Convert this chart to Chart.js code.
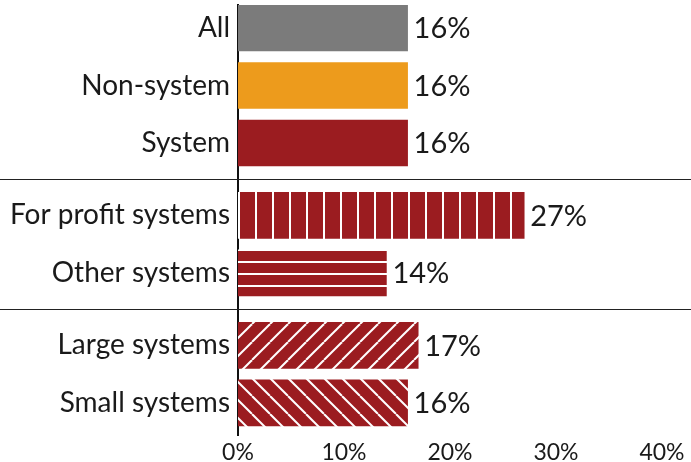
<!DOCTYPE html>
<html>
<head>
<meta charset="utf-8">
<script src="https://cdn.jsdelivr.net/npm/chart.js@4"></script>
<style>
    html, body { margin: 0; padding: 0; background: #fff; }
    #wrap { width: 691px; height: 462px; }
</style>
</head>
<body>
<div id="wrap"><canvas id="chart"></canvas></div>
<script>
// chart data
var categories = ["All", "Non-system", "System", "For profit systems", "Other systems", "Large systems", "Small systems"];
var values = [16, 16, 16, 27, 14, 17, 16];
var groups = [0, 0, 0, 1, 1, 2, 2];
var xTicks = [0, 10, 20, 30, 40];

var RED = "#9b1c20";
var GROUP_GAP = 0.26; // extra space between groups, in rows
var FONT = "Lato";

// row positions: one per category, groups pushed apart a bit
var rows = categories.map(function (c, i) {
    return i + groups[i] * GROUP_GAP;
});

function makePattern(kind) {
    var c = document.createElement("canvas");
    var g = c.getContext("2d");
    if (kind === "vertical") {
        c.width = 17; c.height = 4;
        g.fillStyle = RED; g.fillRect(0, 0, 17, 4);
        g.fillStyle = "#fff"; g.fillRect(0, 0, 2, 4);
    } else if (kind === "horizontal") {
        c.width = 4; c.height = 12;
        g.fillStyle = RED; g.fillRect(0, 0, 4, 12);
        g.fillStyle = "#fff"; g.fillRect(0, 9, 4, 2);
    } else {
        var s = 18;
        c.width = s; c.height = s;
        g.fillStyle = RED; g.fillRect(0, 0, s, s);
        g.strokeStyle = "#fff"; g.lineWidth = 2;
        [-s, 0, s].forEach(function (o) {
            g.beginPath();
            if (kind === "up") {
                g.moveTo(o, s); g.lineTo(o + s, 0);
            } else {
                g.moveTo(o, 0); g.lineTo(o + s, s);
            }
            g.stroke();
        });
    }
    return g.createPattern(c, "repeat");
}

var fills = [
    "#7b7b7b",
    "#ed9b1c",
    RED,
    makePattern("vertical"),
    makePattern("horizontal"),
    makePattern("up"),
    makePattern("down"),
];

// value labels at the end of each bar
var valueLabels = {
    id: "valueLabels",
    afterDatasetsDraw: function (chart) {
        var ctx = chart.ctx;
        var meta = chart.getDatasetMeta(0);
        ctx.save();
        ctx.font = "29px " + FONT;
        ctx.fillStyle = "#1a1a1a";
        ctx.textAlign = "left";
        ctx.textBaseline = "middle";
        meta.data.forEach(function (bar, i) {
            ctx.fillText(values[i] + "%", bar.x + 6, bar.y + 1);
        });
        ctx.restore();
    },
};

// thin lines between the groups
var groupLines = {
    id: "groupLines",
    afterDraw: function (chart) {
        var ctx = chart.ctx;
        var y = chart.scales.y;
        ctx.save();
        ctx.strokeStyle = "#222";
        ctx.lineWidth = 1.2;
        for (var i = 0; i < rows.length - 1; i++) {
            if (groups[i] === groups[i + 1]) continue;
            var py = Math.round((y.getPixelForValue(rows[i]) + y.getPixelForValue(rows[i + 1])) / 2) + 0.5;
            ctx.beginPath();
            ctx.moveTo(0, py);
            ctx.lineTo(chart.width, py);
            ctx.stroke();
        }
        ctx.restore();
    },
};

var ctx = document.getElementById("chart").getContext("2d");
var chart = new Chart(ctx, {
    type: "bar",
    data: {
        datasets: [
            {
                data: values.map(function (v, i) {
                    return { x: v, y: rows[i] };
                }),
                backgroundColor: fills,
                borderWidth: 0,
                barThickness: 46,
            },
        ],
    },
    plugins: [valueLabels, groupLines],
    options: {
        indexAxis: "y",
        responsive: true,
        maintainAspectRatio: false,
        animation: false,
        layout: { padding: { top: 5, right: 29, left: 0, bottom: 0 } },
        plugins: {
            legend: { display: false },
            tooltip: { enabled: false },
        },
        scales: {
            x: {
                type: "linear",
                min: 0,
                max: 40,
                afterBuildTicks: function (axis) {
                    axis.ticks = xTicks.map(function (v) { return { value: v }; });
                },
                afterFit: function (axis) {
                    axis.height = 27;
                    axis.paddingLeft = 0;
                    axis.paddingRight = 0;
                },
                grid: { display: false, drawTicks: false },
                border: { display: false },
                ticks: {
                    padding: 4,
                    color: "#1a1a1a",
                    font: { family: FONT, size: 23 },
                    callback: function (v) { return v + "%"; },
                },
            },
            y: {
                type: "linear",
                reverse: true,
                offset: false,
                min: -0.4,
                max: rows[rows.length - 1] + 0.56,
                afterBuildTicks: function (axis) {
                    axis.ticks = rows.map(function (r) { return { value: r }; });
                },
                afterFit: function (axis) {
                    axis.width = 238;
                    axis.paddingTop = 0;
                    axis.paddingBottom = 0;
                },
                grid: { display: false, drawTicks: false, offset: false },
                border: { display: true, color: "#111", width: 2 },
                ticks: {
                    autoSkip: false,
                    padding: 8,
                    color: "#1a1a1a",
                    font: { family: FONT, size: 28 },
                    callback: function (v, i) { return categories[i]; },
                },
            },
        },
    },
});
</script>
</body>
</html>
